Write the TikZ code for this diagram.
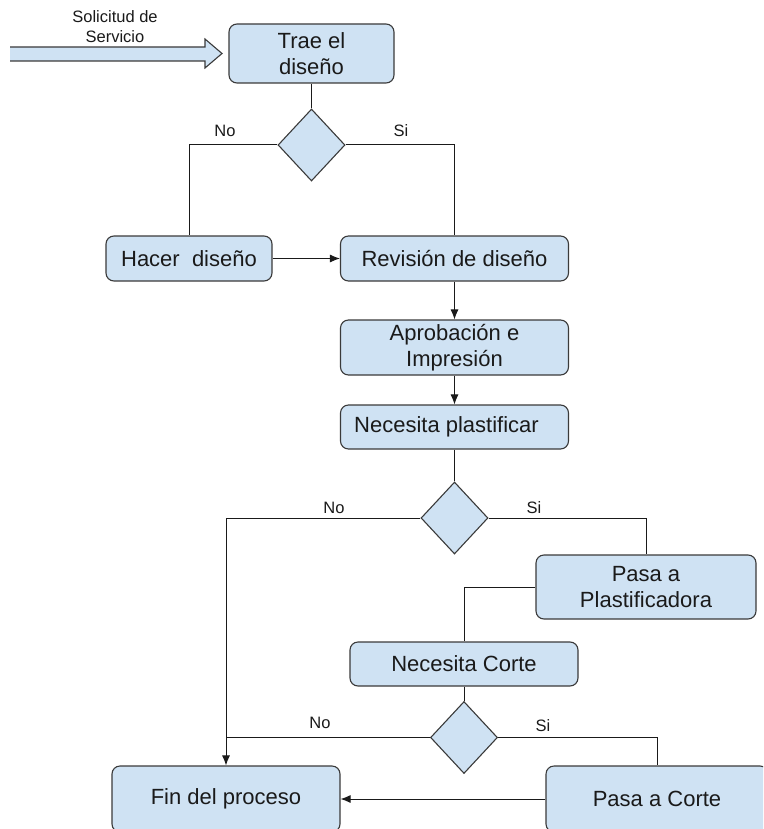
\documentclass[tikz,border=0pt]{standalone}
\usepackage{fontspec}
\setmainfont{Liberation Sans}
\usetikzlibrary{shapes.geometric,arrows.meta}
\definecolor{boxfill}{HTML}{CFE2F3}
\definecolor{boxline}{HTML}{3A3A3A}
\definecolor{ink}{HTML}{1A1A1A}
\tikzset{
 proc/.style={draw=boxline, fill=boxfill, rounded corners=8pt, line width=1.1pt, align=center, inner sep=0pt, font=\fontsize{22}{26}\selectfont, text=ink},
 dec/.style={draw=boxline, fill=boxfill, diamond, line width=1.1pt, inner sep=0pt, minimum width=67pt, minimum height=72pt},
 conn/.style={line width=1pt, draw=ink},
 arr/.style={conn, -{Latex[length=10pt,width=8pt]}},
 lbl/.style={font=\fontsize{16.5}{20}\selectfont, inner sep=0pt, text=ink, align=center},
}
\begin{document}
\begin{tikzpicture}[x=1pt,y=-1pt]
\useasboundingbox (0,0) rectangle (763,829);
\clip (0,0) rectangle (763,829);
% incoming block arrow
\fill[boxfill] (10,47) -- (205,47) -- (205,39) -- (222,53.5) -- (205,68) -- (205,61) -- (10,61) -- cycle;
\draw[boxline, line width=1.1pt, line join=miter] (10,47) -- (205,47) -- (205,39) -- (222,53.5) -- (205,68) -- (205,61) -- (10,61);
\node[lbl] (sol) at (115,27) {Solicitud de\\Servicio};
% boxes
\node[proc, minimum width=165pt, minimum height=59pt] (trae) at (311.5,53.5) {Trae el\\diseño};
\node[dec] (d1) at (311.5,145) {};
\node[proc, minimum width=166pt, minimum height=45pt] (hacer) at (189,258.5) {Hacer~~diseño};
\node[proc, minimum width=228pt, minimum height=45pt] (rev) at (454.5,258.5) {Revisión de diseño};
\node[proc, minimum width=228pt, minimum height=55pt] (apro) at (454.5,347.5) {Aprobación e\\Impresión};
\node[proc, minimum width=228pt, minimum height=44pt] (plast) at (454.5,427) {Necesita plastificar\hspace*{16pt}};
\node[dec] (d2) at (454.5,518) {};
\node[proc, minimum width=220pt, minimum height=64pt] (pplast) at (646,587) {Pasa a\\Plastificadora};
\node[proc, minimum width=228pt, minimum height=44pt] (ncorte) at (464,664) {Necesita Corte};
\node[dec] (d3) at (464,737.5) {};
\node[proc, minimum width=228pt, minimum height=66pt] (fin) at (226,799) {Fin del proceso};
\node[proc, minimum width=222pt, minimum height=66pt] (pcorte) at (657,799) {Pasa a Corte};
% connectors
\draw[conn] (trae.south) -- (d1.north);
\draw[conn] (d1.west) -| (hacer.north);
\draw[conn] (d1.east) -| (rev.north);
\draw[arr] (hacer.east) -- (rev.west);
\draw[arr] (rev.south) -- (apro.north);
\draw[arr] (apro.south) -- (plast.north);
\draw[conn] (plast.south) -- (d2.north);
\draw[arr] (d2.west) -| (fin.north);
\draw[conn] (d2.east) -| (pplast.north);
\draw[conn] (pplast.west) -| (ncorte.north);
\draw[conn] (ncorte.south) -- (d3.north);
\coordinate (j3) at (d3.west -| fin.north);
\draw[conn] (d3.west) -- (j3);
\draw[conn] (d3.east) -| (pcorte.north);
\draw[arr] (pcorte.west) -- (fin.east);
% labels
\node[lbl] (n1) at (225,131) {No};
\node[lbl] (s1) at (401,131) {Si};
\node[lbl] (n2) at (334,508) {No};
\node[lbl] (s2) at (534,508) {Si};
\node[lbl] (n3) at (320,723) {No};
\node[lbl] (s3) at (543,726) {Si};
\end{tikzpicture}
\end{document}
